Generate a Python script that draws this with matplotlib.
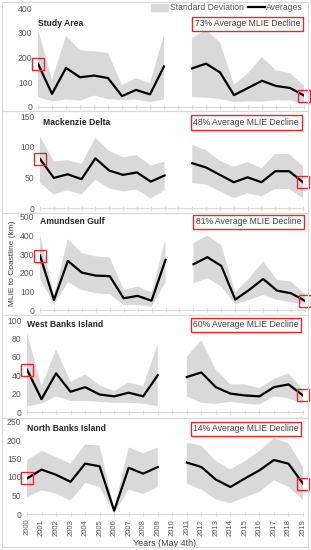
import numpy as np
import matplotlib
matplotlib.use('Agg')
import matplotlib.pyplot as plt
from matplotlib.patches import Rectangle, Patch
from matplotlib.lines import Line2D

plt.rcParams['font.family'] = ['Liberation Sans', 'DejaVu Sans']

nan = np.nan
years = list(range(2000, 2020))

titles = ['Study Area', 'Mackenzie Delta', 'Amundsen Gulf', 'West Banks Island', 'North Banks Island']
declines = ['73%', '48%', '81%', '60%', '14%']
ymax = [400, 150, 500, 100, 250]
ystep = [100, 50, 100, 20, 50]

# averages (2010 missing)
study_mean = [175, 53, 158, 120, 127, 117, 44, 69, 51, 164, nan, 156, 175, 140, 48, 77, 106, 85, 77, 46]
study_hi = [315, 110, 288, 229, 225, 218, 88, 117, 97, 292, nan, 279, 312, 261, 90, 137, 202, 148, 137, 86]
study_lo = [40, 23, 30, 26, 46, 32, 27, 30, 20, 30, nan, 40, 38, 32, 20, 23, 22, 27, 26, 16]

mack_mean = [80, 49, 55, 47, 81, 61, 54, 58, 43, 53, nan, 73, 66, 54, 42, 50, 42, 60, 60, 42]
mack_hi = [117, 76, 78, 72, 114, 93, 83, 86, 69, 76, nan, 103, 94, 77, 67, 75, 65, 88, 88, 68]
mack_lo = [41, 22, 29, 22, 46, 32, 27, 30, 15, 29, nan, 41, 38, 27, 16, 24, 19, 31, 31, 16]

amund_mean = [293, 54, 264, 201, 185, 182, 63, 76, 50, 270, nan, 246, 284, 237, 56, 108, 167, 104, 90, 49]
amund_hi = [405, 81, 381, 306, 288, 282, 108, 126, 95, 381, nan, 360, 401, 347, 95, 171, 261, 162, 153, 85]
amund_lo = [171, 27, 149, 108, 90, 85, 27, 27, 18, 149, nan, 144, 171, 126, 31, 54, 81, 54, 41, 31]

wbi_mean = [46, 14, 42, 22, 27, 19, 17, 21, 17, 40, nan, 38, 43, 27, 20, 18, 17, 27, 30, 18]
wbi_hi = [86, 28, 68, 33, 41, 29, 23, 32, 28, 74, nan, 60, 78, 46, 30, 30, 26, 36, 42, 24]
wbi_lo = [6, 9, 17, 12, 12, 11, 10, 10, 9, 6, nan, 17, 10, 9, 11, 9, 8, 17, 15, 9]

nbi_mean = [96, 120, 106, 87, 136, 129, 9, 125, 109, 127, nan, 139, 127, 93, 73, 96, 118, 146, 136, 82]
nbi_hi = [145, 171, 154, 136, 188, 185, 15, 180, 164, 179, nan, 193, 185, 143, 120, 143, 170, 205, 191, 127]
nbi_lo = [45, 64, 55, 36, 84, 73, 2, 66, 54, 73, nan, 82, 66, 39, 29, 45, 60, 91, 73, 38]

means = [study_mean, mack_mean, amund_mean, wbi_mean, nbi_mean]
his = [study_hi, mack_hi, amund_hi, wbi_hi, nbi_hi]
los = [study_lo, mack_lo, amund_lo, wbi_lo, nbi_lo]

W, H = 311, 550
fig = plt.figure(figsize=(W / 100, H / 100), dpi=100)

# axes boxes in pixels: left, right, top, bottom
boxes = [(38, 304, 8, 107), (40, 303, 116, 208), (40, 305, 217, 310),
         (27, 303, 320, 412), (27, 303, 421.5, 514)]
text_y = [0.84, 0.93, 0.95, 0.95, 0.92]
# panel frames (pixels, top/bottom)
frames = [(2, 111), (111, 213), (213, 315), (315, 418), (418, 547)]

for top, bot in frames:
    fig.add_artist(Rectangle((2 / W, 1 - bot / H), 306 / W, (bot - top) / H,
                             transform=fig.transFigure, fill=False,
                             edgecolor='#d9d9d9', lw=0.8))

grey = '#595959'
for i in range(5):
    l, r, t, b = boxes[i]
    ax = fig.add_axes([l / W, 1 - b / H, (r - l) / W, (b - t) / H])
    x = np.array(years, dtype=float)
    m = np.array(means[i], dtype=float)
    ax.fill_between(x, los[i], his[i], color='#d9d9d9', lw=0)
    ax.plot(x, m, color='black', lw=1.6)
    ax.plot([x[0], x[-1]], [m[0], m[-1]], ls='none', marker='s', ms=8,
            mfc='none', mec='#e8262b', mew=1.0, clip_on=False, zorder=5)
    ax.set_xlim(2000, 2019)
    ax.set_ylim(0, ymax[i])
    ax.set_yticks(np.arange(0, ymax[i] + 1, ystep[i]))
    ax.set_xticks(years)
    for s in ['top', 'right', 'left']:
        ax.spines[s].set_visible(False)
    ax.spines['bottom'].set_color('#d9d9d9')
    ax.spines['bottom'].set_linewidth(0.8)
    ax.tick_params(axis='y', length=0, labelsize=6.2, labelcolor=grey, pad=4)
    ax.tick_params(axis='x', direction='inout', length=3, color='#d9d9d9',
                   labelsize=5.5, labelcolor=grey, rotation=90, pad=2)
    if i < 4:
        ax.set_xticklabels([])
    ax.text(0.0 if i != 1 else 0.01, text_y[i], titles[i], transform=ax.transAxes,
            fontsize=6.2, fontweight='bold', va='center', ha='left', color='#262626')
    ax.text(0.985, text_y[i], declines[i] + ' Average MLIE Decline', transform=ax.transAxes,
            fontsize=6.2, va='center', ha='right', color='#404040',
            bbox=dict(boxstyle='square,pad=0.3', fc='white', ec='#e8262b', lw=1.0))
    if i == 0:
        handles = [Patch(color='#d9d9d9', label='Standard Deviation'),
                   Line2D([], [], color='black', lw=1.6, label='Averages')]
        ax.legend(handles=handles, loc='center right', bbox_to_anchor=(1.01, 1.0),
                  ncol=2, frameon=False, fontsize=6.2, handlelength=2.0,
                  handleheight=1.0, columnspacing=0.4, handletextpad=0.2,
                  labelcolor=grey, borderaxespad=0)
    if i == 2:
        ax.set_ylabel('MLIE to Coastline (km)', fontsize=6, color='#404040', labelpad=3)
    if i == 4:
        ax.set_xlabel('Years (May 4th)', fontsize=6.5, color='#404040', labelpad=2)

fig.savefig('out.png', dpi=100)
